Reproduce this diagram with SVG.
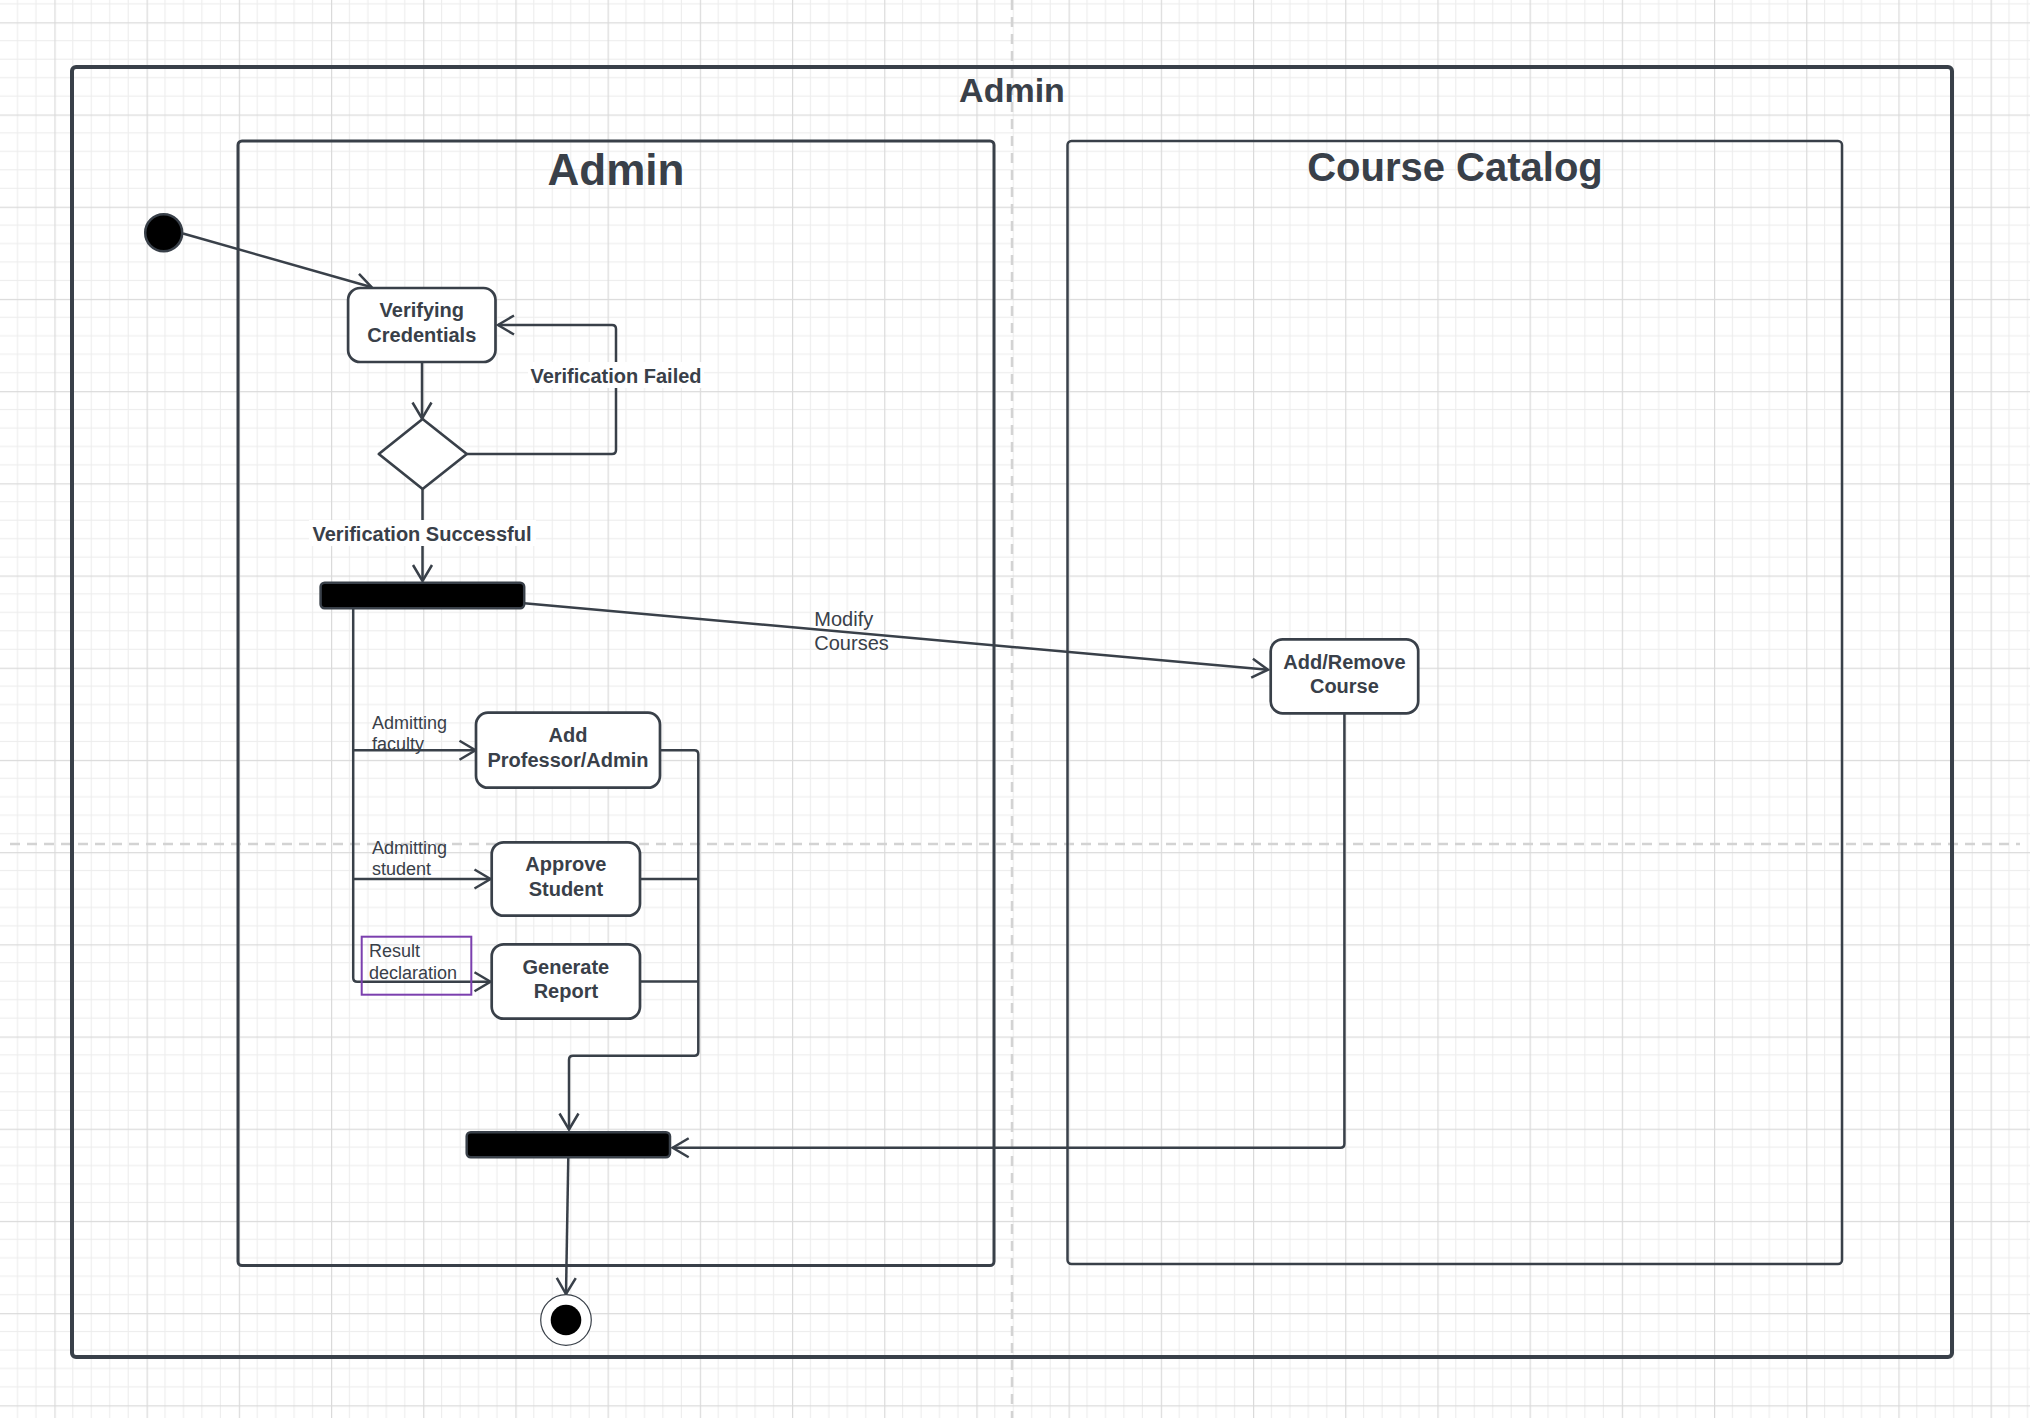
<svg xmlns="http://www.w3.org/2000/svg" width="2030" height="1418" viewBox="0 0 2030 1418">
<style>
.frame{fill:none;stroke:#394049;stroke-width:4}
.lane{fill:none;stroke:#394049;stroke-width:3}
.lane2{fill:none;stroke:#394049;stroke-width:2.5}
.node{fill:#ffffff;stroke:#394049;stroke-width:2.7}
.bar{fill:#000000;stroke:#394049;stroke-width:2.5}
.conn{fill:none;stroke:#394049;stroke-width:2.5}
.arr{marker-end:url(#open)}
.guide{fill:none;stroke:#d3d3d3;stroke-width:2.5;stroke-dasharray:10 7}
text{font-family:"Liberation Sans",Arial,sans-serif;fill:#394049}
.t20b{font-size:20px;font-weight:bold;text-anchor:middle}
.t20{font-size:20px}
.t18{font-size:18px}
.title{font-weight:bold;text-anchor:middle}
</style>
<defs>
<pattern id="grid" patternUnits="userSpaceOnUse" x="54.4" y="22.3" width="92.2" height="92.2">
<rect x="17.94" y="0" width="1" height="92.2" fill="#ececec"/>
<rect x="36.38" y="0" width="1" height="92.2" fill="#ececec"/>
<rect x="54.82" y="0" width="1" height="92.2" fill="#ececec"/>
<rect x="73.26" y="0" width="1" height="92.2" fill="#ececec"/>
<rect x="0" y="17.94" width="92.2" height="1" fill="#ececec"/>
<rect x="0" y="36.38" width="92.2" height="1" fill="#ececec"/>
<rect x="0" y="54.82" width="92.2" height="1" fill="#ececec"/>
<rect x="0" y="73.26" width="92.2" height="1" fill="#ececec"/>
<rect x="0" y="0" width="1.2" height="92.2" fill="#dadada"/>
<rect x="0" y="0" width="92.2" height="1.2" fill="#dadada"/>
</pattern>
<marker id="open" markerUnits="userSpaceOnUse" viewBox="-20 -12 24 24" markerWidth="24" markerHeight="24" refX="0" refY="0" orient="auto">
<path d="M -16 -9.5 L 0 0 L -16 9.5" fill="none" stroke="#394049" stroke-width="2.5" stroke-linejoin="miter"/>
</marker>
</defs>
<rect x="0" y="0" width="2030" height="1418" fill="#ffffff"/>
<rect x="0" y="0" width="2030" height="1418" fill="url(#grid)"/>
<g id="guides">
<line class="guide" x1="1012" y1="0" x2="1012" y2="1418"/>
<line class="guide" x1="10" y1="844" x2="2020" y2="844"/>
</g>
<g id="frame-admin">
<rect class="frame" x="72" y="67" width="1880" height="1290" rx="4"/>
<text class="title" x="1012" y="102" font-size="34">Admin</text>
</g>
<g id="lane-admin">
<rect class="lane" x="238" y="141" width="756" height="1124.5" rx="4"/>
<text class="title" x="616" y="185" font-size="44">Admin</text>
</g>
<g id="lane-course-catalog">
<rect class="lane2" x="1067.5" y="141" width="774.5" height="1123" rx="4"/>
<text class="title" x="1455" y="181" font-size="40">Course Catalog</text>
</g>
<g id="connectors">
<line class="conn arr" x1="183" y1="233.5" x2="371.8" y2="287.3"/>
<line class="conn arr" x1="422" y1="362" x2="422" y2="418.5"/>
<path class="conn arr" d="M 466.8 454 H 612 Q 616 454 616 450 V 329 Q 616 325 612 325 H 498"/>
<rect x="528" y="362" width="176" height="26" fill="#ffffff"/>
<text class="t20b" x="616" y="382.5">Verification Failed</text>
<line class="conn arr" x1="422.5" y1="489" x2="422.5" y2="581"/>
<rect x="309" y="520" width="227" height="26" fill="#ffffff"/>
<text class="t20b" x="422" y="540.5">Verification Successful</text>
<line class="conn arr" x1="524.2" y1="603.3" x2="1268" y2="669.7"/>
<text class="t20" x="814.3" y="625.5">Modify</text>
<text class="t20" x="814.3" y="649.5">Courses</text>
<path class="conn arr" d="M 353.2 608.3 V 977.7 Q 353.2 981.7 357.2 981.7 H 490.5"/>
<line class="conn arr" x1="353.2" y1="750.3" x2="475.5" y2="750.3"/>
<line class="conn arr" x1="353.2" y1="879" x2="490.5" y2="879"/>
<text class="t18" x="372" y="729">Admitting</text>
<text class="t18" x="372" y="749.5">faculty</text>
<text class="t18" x="372" y="853.5">Admitting</text>
<text class="t18" x="372" y="875">student</text>
<rect x="361.7" y="936.7" width="109.6" height="58" fill="none" stroke="#7b3fae" stroke-width="2"/>
<text class="t18" x="369" y="956.7">Result</text>
<text class="t18" x="369" y="979">declaration</text>
<path class="conn arr" d="M 660 750.3 H 694.3 Q 698.3 750.3 698.3 754.3 V 1051.7 Q 698.3 1055.7 694.3 1055.7 H 573 Q 569 1055.7 569 1059.7 V 1129.5"/>
<line class="conn" x1="640" y1="879" x2="698.3" y2="879"/>
<line class="conn" x1="640" y1="981.6" x2="698.3" y2="981.6"/>
<path class="conn arr" d="M 1344.4 713.4 V 1143.7 Q 1344.4 1147.7 1340.4 1147.7 H 672.7"/>
<line class="conn arr" x1="568.3" y1="1157.3" x2="566" y2="1294"/>
</g>
<g id="start">
<circle cx="163.7" cy="232.8" r="18.5" fill="#000000" stroke="#394049" stroke-width="2.5"/>
</g>
<g id="verifying-credentials">
<rect class="node" x="348.1" y="288" width="147.4" height="74" rx="12"/>
<text class="t20b" x="421.8" y="317">Verifying</text>
<text class="t20b" x="421.8" y="342">Credentials</text>
</g>
<g id="decision">
<path class="node" d="M 422.6 419 L 466.8 454 L 422.6 489 L 378.8 454 Z" stroke-linejoin="round"/>
</g>
<g id="fork">
<rect class="bar" x="320.6" y="582.7" width="203.6" height="25.6" rx="4"/>
</g>
<g id="add-remove-course">
<rect class="node" x="1270.7" y="639.3" width="147.5" height="74" rx="12"/>
<text class="t20b" x="1344.4" y="668.6">Add/Remove</text>
<text class="t20b" x="1344.4" y="693">Course</text>
</g>
<g id="add-professor-admin">
<rect class="node" x="476" y="712.7" width="184" height="75" rx="12"/>
<text class="t20b" x="568" y="742">Add</text>
<text class="t20b" x="568" y="767">Professor/Admin</text>
</g>
<g id="approve-student">
<rect class="node" x="491.7" y="842.3" width="148.3" height="73.4" rx="12"/>
<text class="t20b" x="565.9" y="871">Approve</text>
<text class="t20b" x="565.9" y="895.5">Student</text>
</g>
<g id="generate-report">
<rect class="node" x="491.7" y="944.3" width="148.3" height="74.4" rx="12"/>
<text class="t20b" x="565.9" y="973.5">Generate</text>
<text class="t20b" x="565.9" y="998">Report</text>
</g>
<g id="join">
<rect class="bar" x="466.7" y="1132.3" width="203.3" height="25" rx="4"/>
</g>
<g id="end">
<circle cx="566" cy="1320" r="25.3" fill="#ffffff" stroke="#394049" stroke-width="1.2"/>
<circle cx="566" cy="1320" r="15.3" fill="#000000"/>
</g>
</svg>
